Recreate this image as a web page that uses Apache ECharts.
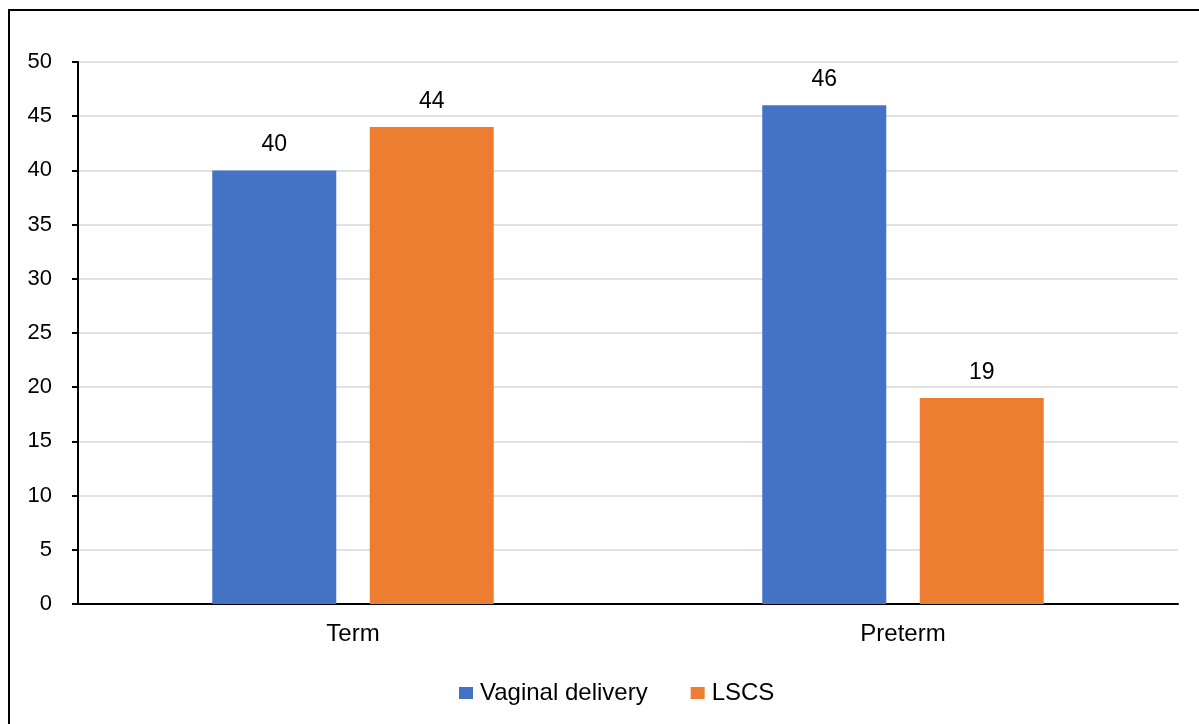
<!DOCTYPE html>
<html>
<head>
<meta charset="utf-8">
<script src="https://cdn.jsdelivr.net/npm/echarts@6/dist/echarts.min.js"></script>
<style>
  html, body { margin: 0; padding: 0; background: #fff; }
  #frame {
    position: absolute; left: 8px; top: 9px;
    width: 1300px; height: 800px;
    border: 2px solid #000; box-sizing: border-box;
  }
  #main { position: absolute; left: 0; top: 0; width: 1199px; height: 724px; }
</style>
</head>
<body>
<div id="frame"></div>
<div id="main"></div>
<script>
  var categories = ['Term', 'Preterm'];
  var vaginal = [40, 46];
  var lscs = [44, 19];
  var yTicks = { min: 0, max: 50, step: 5 };

  var font = 'Liberation Sans, Arial, sans-serif';
  var chart = echarts.init(document.getElementById('main'));

  var option = {
    animation: false,
    textStyle: { fontFamily: font },
    grid: { left: 78, right: 21, top: 62, bottom: 120 },
    legend: {
      top: 676,
      left: 454,
      itemWidth: 14,
      itemHeight: 12,
      itemGap: 43,
      icon: 'rect',
      textStyle: { fontFamily: font, fontSize: 24, color: '#000', padding: [0, 0, 0, 2] },
      data: ['Vaginal delivery', 'LSCS']
    },
    xAxis: {
      type: 'category',
      data: categories,
      axisLine: { lineStyle: { color: '#000', width: 2 } },
      axisTick: { show: false },
      axisLabel: { fontFamily: font, fontSize: 24, color: '#000', margin: 18 }
    },
    yAxis: {
      type: 'value',
      min: yTicks.min,
      max: yTicks.max,
      interval: yTicks.step,
      axisLine: { show: true, lineStyle: { color: '#000', width: 2 } },
      axisTick: { show: true, length: 6, lineStyle: { color: '#000', width: 2 } },
      splitLine: { lineStyle: { color: '#d9d9d9', width: 1.5 } },
      axisLabel: { fontFamily: font, fontSize: 22, color: '#000', margin: 26 }
    },
    series: [
      {
        name: 'Vaginal delivery',
        type: 'bar',
        data: vaginal,
        barWidth: 124,
        barGap: '27%',
        itemStyle: { color: '#4472C4' },
        label: { show: true, position: 'top', distance: 14, fontFamily: font, fontSize: 23, color: '#000' }
      },
      {
        name: 'LSCS',
        type: 'bar',
        data: lscs,
        barWidth: 124,
        barGap: '27%',
        itemStyle: { color: '#ED7D31' },
        label: { show: true, position: 'top', distance: 14, fontFamily: font, fontSize: 23, color: '#000' }
      }
    ]
  };

  chart.setOption(option);
</script>
</body>
</html>
